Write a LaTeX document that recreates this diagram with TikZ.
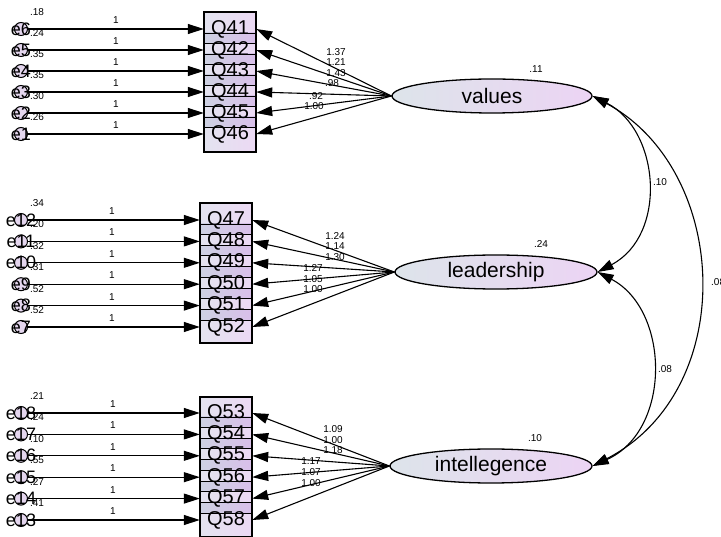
\documentclass[tikz,border=0pt]{standalone}
\usepackage{fontspec}
\setmainfont{Liberation Sans}
\usetikzlibrary{arrows.meta,shapes.geometric}

\definecolor{itemL}{HTML}{E3E3EF}
\definecolor{itemR}{HTML}{ECD9F4}
\definecolor{bandL}{HTML}{CDD1E2}
\definecolor{bandR}{HTML}{D9BFEA}
\definecolor{latL}{HTML}{DDE4EA}
\definecolor{latR}{HTML}{ECD4F4}
\definecolor{errfill}{HTML}{E4D6EE}

\begin{document}
\begin{tikzpicture}[x=1pt,y=-1pt,
  qtext/.style={inner sep=0pt, minimum width=52pt, font=\fontsize{20}{20}\selectfont},
  latent/.style={ellipse, draw, line width=1.3pt, minimum width=200pt, minimum height=34pt,
    inner sep=0pt, left color=latL, right color=latR, font=\fontsize{21}{21}\selectfont},
  errc/.style={circle, draw, line width=1pt, fill=errfill, minimum size=13pt, inner sep=0pt},
  errt/.style={inner sep=0pt, font=\fontsize{18}{18}\selectfont},
  num/.style={inner sep=0pt, font=\fontsize{10}{10}\selectfont},
  path/.style={line width=1.1pt, -{Triangle[length=16pt,width=10pt]}},
  cov/.style={line width=1.1pt, {Triangle[length=16pt,width=10pt]}-{Triangle[length=16pt,width=10pt]}},
  boxframe/.style={draw, line width=1.2pt},
  sep/.style={line width=0.9pt}]

\useasboundingbox (0,0) rectangle (721,537);

% ---------- indicator columns ----------
% values block
\fill[left color=itemL, right color=itemR] (204,12) rectangle (256,152);
\foreach \a/\b in {29/50,50/71,71/92,92/113,113/134}{
  \fill[left color=bandL, right color=bandR] (204,\a+4) rectangle (256,\b-7);
  \draw[sep] (204,\a+4) -- (256,\a+4);
  \draw[sep] (204,\b-7) -- (256,\b-7);
}
\draw[boxframe] (204,12) rectangle (256,152);

% leadership block
\fill[left color=itemL, right color=itemR] (200,203) rectangle (252,343);
\foreach \a/\b in {220/241.4,241.4/262.8,262.8/284.2,284.2/305.6,305.6/327}{
  \fill[left color=bandL, right color=bandR] (200,\a+4) rectangle (252,\b-7);
  \draw[sep] (200,\a+4) -- (252,\a+4);
  \draw[sep] (200,\b-7) -- (252,\b-7);
}
\draw[boxframe] (200,203) rectangle (252,343);

% intellegence block
\fill[left color=itemL, right color=itemR] (200,397) rectangle (252,537);
\foreach \a/\b in {413/434.4,434.4/455.8,455.8/477.2,477.2/498.6,498.6/520}{
  \fill[left color=bandL, right color=bandR] (200,\a+4) rectangle (252,\b-7);
  \draw[sep] (200,\a+4) -- (252,\a+4);
  \draw[sep] (200,\b-7) -- (252,\b-7);
}
\draw[boxframe] (200,397) rectangle (252,537);

% item labels
\node[qtext] (Q41) at (230,29) {Q41};
\node[qtext] (Q42) at (230,50) {Q42};
\node[qtext] (Q43) at (230,71) {Q43};
\node[qtext] (Q44) at (230,92) {Q44};
\node[qtext] (Q45) at (230,113) {Q45};
\node[qtext] (Q46) at (230,134) {Q46};

\node[qtext] (Q47) at (226,220) {Q47};
\node[qtext] (Q48) at (226,241.4) {Q48};
\node[qtext] (Q49) at (226,262.8) {Q49};
\node[qtext] (Q50) at (226,284.2) {Q50};
\node[qtext] (Q51) at (226,305.6) {Q51};
\node[qtext] (Q52) at (226,327) {Q52};

\node[qtext] (Q53) at (226,413) {Q53};
\node[qtext] (Q54) at (226,434.4) {Q54};
\node[qtext] (Q55) at (226,455.8) {Q55};
\node[qtext] (Q56) at (226,477.2) {Q56};
\node[qtext] (Q57) at (226,498.6) {Q57};
\node[qtext] (Q58) at (226,520) {Q58};

% ---------- error terms ----------
\foreach \n/\y/\v/\q/\w in {e6/29/.18/Q41/116, e5/50/.24/Q42/116, e4/71/.35/Q43/116, e3/92/.35/Q44/116, e2/113/.30/Q45/116, e1/134/.26/Q46/116,
  e12/220/.34/Q47/112, e11/241.4/.20/Q48/112, e10/262.8/.32/Q49/112, e9/284.2/.31/Q50/112, e8/305.6/.52/Q51/112, e7/327/.52/Q52/112,
  e18/413/.21/Q53/113, e17/434.4/.24/Q54/113, e16/455.8/.10/Q55/113, e15/477.2/.55/Q56/113, e14/498.6/.27/Q57/113, e13/520/.41/Q58/113}{
  \node[errc] (\n c) at (21,\y) {};
  \node[num] (\n v) at (37,\y-17) {\v};
  \node[errt] (\n t) at (21,\y) {\n};
  \draw[path] (\n c.east) -- (\q.west);
  \node[num] (\n w) at (\w,\y-9) {1};
}

% ---------- latent variables ----------
\node[latent] (values) at (492,96) {values};
\node[latent, minimum width=202pt] (leadership) at (496,272) {leadership};
\node[latent, minimum width=202pt] (intellegence) at (491,466) {intellegence};

\node[num] (vv) at (536,69) {.11};
\node[num] (lv) at (541,244) {.24};
\node[num] (iv) at (535,438) {.10};

% ---------- loadings ----------
\foreach \q in {Q41,Q42,Q43,Q44,Q45,Q46}{\draw[path] (values.west) -- (\q.east);}
\foreach \q in {Q47,Q48,Q49,Q50,Q51,Q52}{\draw[path] (leadership.west) -- (\q.east);}
\foreach \q in {Q53,Q54,Q55,Q56,Q57,Q58}{\draw[path] (intellegence.west) -- (\q.east);}

\node[num] (l41) at (336,52) {1.37};
\node[num] (l42) at (336,62) {1.21};
\node[num] (l43) at (336,73) {1.43};
\node[num] (l44) at (332,83) {.98};
\node[num] (l45) at (316,96) {.92};
\node[num] (l46) at (314,106) {1.00};

\node[num] (l47) at (335,236) {1.24};
\node[num] (l48) at (335,246) {1.14};
\node[num] (l49) at (335,257) {1.30};
\node[num] (l50) at (313,268) {1.27};
\node[num] (l51) at (313,279) {1.05};
\node[num] (l52) at (313,289) {1.00};

\node[num] (l53) at (333,429) {1.09};
\node[num] (l54) at (333,440) {1.00};
\node[num] (l55) at (333,450) {1.18};
\node[num] (l56) at (311,461) {1.17};
\node[num] (l57) at (311,472) {1.07};
\node[num] (l58) at (311,483) {1.00};

% ---------- covariances ----------
\draw[cov] (values.east) .. controls (660,130) and (668,235) .. (leadership.east);
\draw[cov] (leadership.east) .. controls (670,310) and (672,430) .. (intellegence.east);
\draw[cov] (values.east) .. controls (730,170) and (740,390) .. (intellegence.east);

\node[num] (c1) at (660,182) {.10};
\node[num] (c2) at (665,369) {.08};
\node[num, anchor=west] (c3) at (711,282) {.08};
\end{tikzpicture}
\end{document}
